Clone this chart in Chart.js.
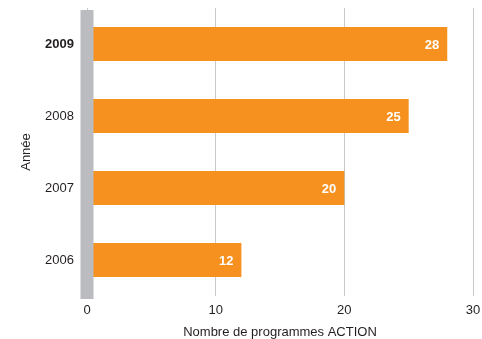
<!DOCTYPE html>
<html>
<head>
<meta charset="utf-8">
<script src="https://cdn.jsdelivr.net/npm/chart.js@4"></script>
<style>
    html, body { margin: 0; padding: 0; background: #ffffff; }
    #wrap { width: 482px; height: 339px; position: relative; }
</style>
</head>
<body>
<div id="wrap"><canvas id="programmes"></canvas></div>
<script>
(function () {
    "use strict";

    var years = ["2009", "2008", "2007", "2006"];
    var programmes = [28, 25, 20, 12];
    var xTicks = [0, 10, 20, 30];

    var orange = "#F6911F";
    var band = "#BBBCC0";
    var textColor = "#231F20";
    var fontFamily = "'Liberation Sans', Arial, Helvetica, sans-serif";

    // gray zero band drawn over the bar bases, then the white value labels
    var overlay = {
        id: "overlay",
        afterDatasetsDraw: function (chart) {
            var ctx = chart.ctx;
            var area = chart.chartArea;
            var x0 = chart.scales.x.getPixelForValue(0);
            ctx.save();
            ctx.fillStyle = band;
            ctx.fillRect(x0 - 6.5, area.top + 2, 13, area.bottom - area.top + 1);

            ctx.fillStyle = "#ffffff";
            ctx.font = "bold 13px " + fontFamily;
            ctx.textAlign = "right";
            ctx.textBaseline = "middle";
            chart.getDatasetMeta(0).data.forEach(function (bar, i) {
                ctx.fillText(String(programmes[i]), bar.x - 8, bar.y + 1);
            });
            ctx.restore();
        }
    };

    new Chart(document.getElementById("programmes"), {
        type: "bar",
        data: {
            labels: years,
            datasets: [
                {
                    data: programmes,
                    backgroundColor: orange,
                    borderWidth: 0,
                    categoryPercentage: 1,
                    barPercentage: 0.47
                }
            ]
        },
        options: {
            indexAxis: "y",
            responsive: true,
            maintainAspectRatio: false,
            animation: false,
            layout: {
                padding: { top: 8, right: 9, bottom: 0, left: 0 }
            },
            plugins: {
                legend: { display: false },
                tooltip: { enabled: false }
            },
            scales: {
                x: {
                    min: 0,
                    max: 30,
                    afterBuildTicks: function (axis) {
                        axis.ticks = xTicks.map(function (v) { return { value: v }; });
                    },
                    afterFit: function (axis) {
                        axis.paddingLeft = 0;
                        axis.paddingRight = 0;
                        axis.height = 43;
                    },
                    grid: {
                        color: "#C8C8C8",
                        lineWidth: 1,
                        drawTicks: false
                    },
                    border: { display: false },
                    ticks: {
                        color: textColor,
                        padding: 7,
                        font: { family: fontFamily, size: 13 }
                    },
                    title: {
                        display: true,
                        text: "Nombre de programmes ACTION",
                        color: textColor,
                        padding: { top: 3, bottom: -1 },
                        font: { family: fontFamily, size: 13 }
                    }
                },
                y: {
                    afterFit: function (axis) {
                        axis.paddingTop = 0;
                        axis.paddingBottom = 0;
                        axis.width = 87;
                    },
                    grid: { display: false, drawTicks: false },
                    border: { display: false },
                    ticks: {
                        color: textColor,
                        padding: 13,
                        font: function (c) {
                            return {
                                family: fontFamily,
                                size: 13,
                                weight: c.index === 0 ? "bold" : "normal"
                            };
                        }
                    },
                    title: {
                        display: true,
                        text: "Année",
                        color: textColor,
                        padding: { top: 19, bottom: 0 },
                        font: { family: fontFamily, size: 13 }
                    }
                }
            }
        },
        plugins: [overlay]
    });
})();
</script>
</body>
</html>
